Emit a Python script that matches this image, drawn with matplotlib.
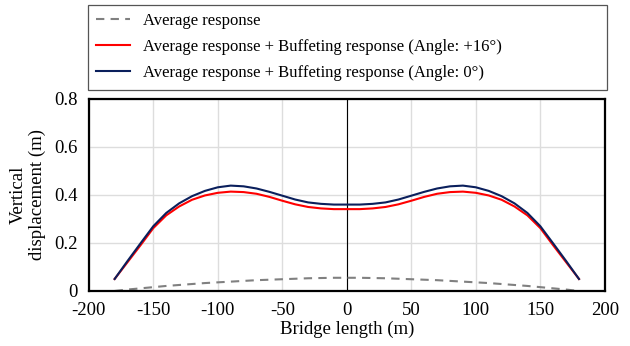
import matplotlib
matplotlib.use("Agg")
import matplotlib.pyplot as plt

plt.rcParams['font.family'] = ['Liberation Serif', 'DejaVu Serif']
plt.rcParams['font.size'] = 13.5

# bridge positions (m)
x_pos = [-180, -170, -160, -150, -140, -130, -120, -110, -100, -90, -80, -70,
         -60, -50, -40, -30, -20, -10, 0, 10, 20, 30, 40, 50, 60, 70, 80, 90,
         100, 110, 120, 130, 140, 150, 160, 170, 180]

# average (static) response
avg_resp = [0.0, 0.006, 0.011, 0.016, 0.021, 0.025, 0.029, 0.033, 0.036, 0.039,
            0.042, 0.045, 0.047, 0.049, 0.051, 0.053, 0.054, 0.055, 0.055,
            0.055, 0.054, 0.053, 0.051, 0.049, 0.047, 0.045, 0.042, 0.039,
            0.036, 0.033, 0.029, 0.025, 0.021, 0.016, 0.011, 0.006, 0.0]

# average + buffeting, angle +16 deg
resp_16 = [0.05, 0.12, 0.19, 0.262, 0.315, 0.352, 0.38, 0.398, 0.409, 0.414,
           0.412, 0.405, 0.392, 0.376, 0.361, 0.35, 0.344, 0.341, 0.341,
           0.341, 0.344, 0.35, 0.361, 0.376, 0.392, 0.405, 0.412, 0.414,
           0.409, 0.398, 0.38, 0.352, 0.315, 0.262, 0.19, 0.12, 0.05]

# average + buffeting, angle 0 deg
resp_0 = [0.05, 0.125, 0.198, 0.27, 0.325, 0.365, 0.395, 0.417, 0.432, 0.439,
          0.436, 0.427, 0.413, 0.397, 0.381, 0.369, 0.363, 0.36, 0.36,
          0.36, 0.363, 0.369, 0.381, 0.397, 0.413, 0.427, 0.436, 0.439,
          0.432, 0.417, 0.395, 0.365, 0.325, 0.27, 0.198, 0.125, 0.05]

fig = plt.figure(figsize=(6.3, 3.46), dpi=100)
ax = fig.add_axes([0.141, 0.159, 0.819, 0.555])

ax.plot(x_pos, avg_resp, color='#808080', ls=(0, (4, 3)), lw=1.5,
        label='Average response')
ax.plot(x_pos, resp_16, color='#ff0000', lw=1.5,
        label='Average response + Buffeting response (Angle: +16°)')
ax.plot(x_pos, resp_0, color='#0a1f5c', lw=1.5,
        label='Average response + Buffeting response (Angle: 0°)')
ax.axvline(0, color='black', lw=0.8, zorder=1)

ax.set_xlim(-200, 200)
ax.set_ylim(0, 0.8)
ax.set_xticks(range(-200, 201, 50))
ax.set_xticklabels([str(v) for v in range(-200, 201, 50)])
ax.set_yticks([0, 0.2, 0.4, 0.6, 0.8])
ax.set_yticklabels(['0', '0.2', '0.4', '0.6', '0.8'])
ax.tick_params(length=0, pad=8)
ax.grid(color='#dddddd', lw=1)
ax.set_axisbelow(True)
for s in ax.spines.values():
    s.set_linewidth(1.6)

ax.set_xlabel('Bridge length (m)', labelpad=1)
ax.set_ylabel('Vertical\ndisplacement (m)', labelpad=6, linespacing=1.1)

# legend box spans the axes width above the plot
leg = fig.legend(loc='upper left', bbox_to_anchor=(0.1397, 0.75, 0.8238, 0.236),
                 mode='expand', fancybox=False, edgecolor='#555555',
                 framealpha=1, fontsize=12, handlelength=2.0,
                 handletextpad=0.8, borderpad=0.5, labelspacing=0.6,
                 borderaxespad=0)
leg.get_frame().set_linewidth(0.9)

fig.savefig('out.png', dpi=100)
